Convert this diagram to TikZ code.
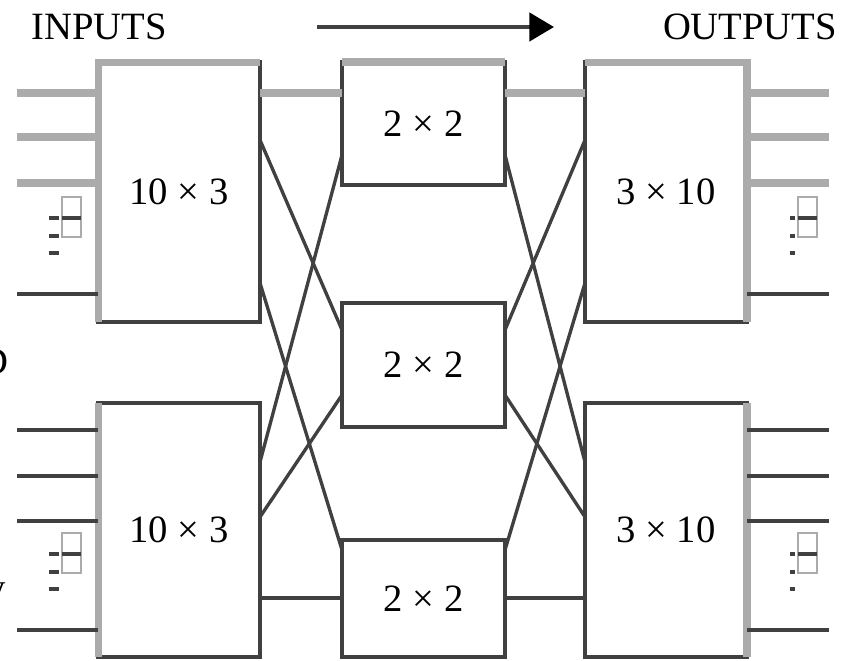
\documentclass[tikz,border=0pt]{standalone}
\usepackage{fontspec}
\setmainfont{Liberation Serif}
\usetikzlibrary{arrows.meta}

\definecolor{edge}{HTML}{404040}
\definecolor{hot}{HTML}{ABABAB}

\tikzset{
  switch/.style={draw=edge, line width=2.3pt, fill=white, rectangle,
    inner sep=0pt, outer sep=0pt, font=\fontsize{22}{24}\selectfont},
  wire/.style={draw=edge, line width=1.9pt},
  lead/.style={draw=edge, line width=2.3pt},
  hot/.style={draw=hot, line width=4pt},
  title/.style={font=\fontsize{22}{24}\selectfont, inner sep=0pt},
  % the little "more lines" mark beside the outer switches
  etc/.pic={
    \draw[hot, line width=1.6pt] (0,0) rectangle (19,40);
    \draw[lead, line width=1.8pt] (0,21) -- (19,21);
    \foreach \d in {21,39,56} \draw[lead, line width=2.2pt] (#1,\d) -- (-3,\d);
  }
}

\begin{document}
\begin{tikzpicture}[x=0.02cm, y=-0.02cm]
\useasboundingbox (0,0) rectangle (844,661);

% rows where the wires meet the switches
\foreach \y in {93,137,140,155,183,283,294,330,395,430,462,476,517,521,550,598,630}
  \coordinate (y\y) at (0,\y);

% headings and flow direction
\node[title] (inputs) at (99,27) {INPUTS};
\node[title] (outputs) at (750,27) {OUTPUTS};
\coordinate (flowA) at (317,27);
\coordinate (flowB) at (554,27);
\draw[lead, -{Triangle[length=14pt, width=16pt, color=black]}] (flowA) -- (flowB);

% stray letters cut at the left margin
\node[title, anchor=east] (cutD) at (9,362) {D};
\node[title, anchor=east] (cutY) at (6,596) {y};

% first stage
\node[switch, minimum width=3.24cm, minimum height=5.2cm] (tl) at (179,192) {10 × 3};
\node[switch, minimum width=3.24cm, minimum height=5.08cm] (bl) at (179,530) {10 × 3};

% middle stage
\node[switch, minimum width=3.26cm, minimum height=2.46cm] (top) at (423.5,123.5) {2 × 2};
\node[switch, minimum width=3.26cm, minimum height=2.48cm] (mid) at (423.5,365) {2 × 2};
\node[switch, minimum width=3.26cm, minimum height=2.34cm] (bot) at (423.5,598.5) {2 × 2};

% last stage
\node[switch, minimum width=3.24cm, minimum height=5.2cm] (tr) at (666,192) {3 × 10};
\node[switch, minimum width=3.24cm, minimum height=5.08cm] (br) at (666,530) {3 × 10};

% highlighted borders
\draw[hot] (tl.south west) -- (tl.north west) -- (tl.north east);
\draw[hot] (bl.south west) -- (bl.north west);
\draw[hot] (top.north west) -- (top.north east);
\draw[hot] (tr.north west) -- (tr.north east) -- (tr.south east);
\draw[hot] (br.north east) -- (br.south east);

% inputs and outputs of the outer switches
\foreach \y/\s in {93/hot,137/hot,183/hot,294/lead} {
  \coordinate (pin) at (17,\y);
  \coordinate (pout) at (829,\y);
  \draw[\s] (tl.west |- pin) -- (pin);
  \draw[\s] (tr.east |- pout) -- (pout);
}
\foreach \y in {430,476,521,630} {
  \coordinate (pin) at (17,\y);
  \coordinate (pout) at (829,\y);
  \draw[lead] (bl.west |- pin) -- (pin);
  \draw[lead] (br.east |- pout) -- (pout);
}
\pic at (62,197) {etc=-13};
\pic at (62,533) {etc=-13};
\pic at (798,197) {etc=-8};
\pic at (798,533) {etc=-8};

% first stage to middle stage
\draw[hot] (tl.east |- y93) -- (top.west |- y93);
\draw[wire] (tl.east |- y140) -- (mid.west |- y330);
\draw[wire] (tl.east |- y283) -- (bot.west |- y550);
\draw[wire] (bl.east |- y462) -- (top.west |- y155);
\draw[wire] (bl.east |- y517) -- (mid.west |- y395);
\draw[wire] (bl.east |- y598) -- (bot.west |- y598);

% middle stage to last stage
\draw[hot] (top.east |- y93) -- (tr.west |- y93);
\draw[wire] (top.east |- y155) -- (br.west |- y462);
\draw[wire] (mid.east |- y330) -- (tr.west |- y140);
\draw[wire] (mid.east |- y395) -- (br.west |- y517);
\draw[wire] (bot.east |- y550) -- (tr.west |- y283);
\draw[wire] (bot.east |- y598) -- (br.west |- y598);
\end{tikzpicture}
\end{document}
